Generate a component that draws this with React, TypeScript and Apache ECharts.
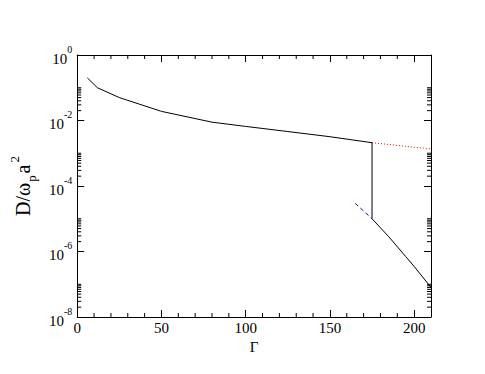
import React, { useEffect, useRef } from "react";
import * as echarts from "echarts";

// Main curve (Gamma, D/(omega_p a^2))
const mainGamma = [6, 12, 25, 50, 80, 100, 125, 150, 175, 175, 185, 195, 200, 210];
const mainD = [0.2, 0.1, 0.05, 0.019, 0.0089, 0.0066, 0.0046, 0.0032, 0.0021, 1e-5, 2.8e-6, 7e-7, 3.5e-7, 8e-8];
// Red dotted extension (fluid branch)
const redGamma = [175, 210];
const redD = [0.0021, 0.00135];
// Blue dashed extension (solid branch)
const blueGamma = [165, 175];
const blueD = [2.95e-5, 1e-5];

// Axis ticks
const xMinorTicks = [10, 20, 30, 40, 60, 70, 80, 90, 110, 120, 130, 140, 160, 170, 180, 190];
const yMinorMantissas = [2, 3, 4, 5, 6, 7, 8, 9, 10];
const yMinorDecades = [-2, -4, -6, -8];

const X_MIN = 0;
const X_MAX = 210;
const Y_MIN = 1e-8;
const Y_MAX = 1;

const FONT = "Liberation Serif";

export default function App() {
  const ref = useRef<HTMLDivElement>(null);
  useEffect(() => {
    if (!ref.current) return;
    const chart = echarts.init(ref.current, undefined, { renderer: "svg" });

    const zip = (a: number[], b: number[]) => a.map((v, i) => [v, b[i]]);
    const yMinor: number[][] = [];
    yMinorDecades.forEach((d) =>
      yMinorMantissas.forEach((m) => yMinor.push([X_MIN, m * Math.pow(10, d)]))
    );
    const xMinor = xMinorTicks.map((x) => [x, Y_MIN]);

    const lineStyleBase = { color: "#000", width: 1 };

    chart.setOption({
      animation: false,
      backgroundColor: "#fff",
      textStyle: { fontFamily: FONT },
      grid: { left: 64, right: 54, top: 55, bottom: 57 },
      xAxis: [
        {
          type: "value",
          min: X_MIN,
          max: X_MAX,
          interval: 50,
          position: "bottom",
          name: "Γ",
          nameLocation: "middle",
          nameGap: 17,
          nameTextStyle: { fontFamily: FONT, fontSize: 15, color: "#000" },
          axisLine: { show: true, onZero: false, lineStyle: lineStyleBase },
          axisTick: { show: true, inside: true, length: 7, lineStyle: lineStyleBase },
          axisLabel: {
            show: true,
            fontFamily: FONT,
            fontSize: 15,
            color: "#000",
            margin: 3,
            showMaxLabel: false,
          },
          splitLine: { show: false },
        },
        {
          type: "value",
          min: X_MIN,
          max: X_MAX,
          interval: 50,
          position: "top",
          axisLine: { show: true, onZero: false, lineStyle: lineStyleBase },
          axisTick: { show: true, inside: true, length: 7, lineStyle: lineStyleBase },
          axisLabel: { show: false },
          splitLine: { show: false },
        },
      ],
      yAxis: [
        {
          type: "log",
          logBase: 100,
          min: Y_MIN,
          max: Y_MAX,
          position: "left",
          name: "{n|D/ω}{sub|p}{n|a}{sup|2}",
          nameLocation: "middle",
          nameRotate: 90,
          nameGap: 35,
          nameTextStyle: {
            fontFamily: FONT,
            color: "#000",
            rich: {
              n: { fontFamily: FONT, fontSize: 20, lineHeight: 30, color: "#000" },
              sub: { fontFamily: FONT, fontSize: 13, lineHeight: 14, verticalAlign: "bottom", color: "#000", padding: [0, 2, 0, 1] },
              sup: { fontFamily: FONT, fontSize: 13, lineHeight: 14, verticalAlign: "top", color: "#000", padding: [0, 0, 0, 2] },
            },
          },
          axisLine: { show: true, onZero: false, lineStyle: lineStyleBase },
          axisTick: { show: true, inside: true, length: 7, lineStyle: lineStyleBase },
          axisLabel: {
            show: true,
            margin: 5,
            formatter: (v: number) => `{b|10}{s|${Math.round(Math.log10(v))}}`,
            rich: {
              b: { fontFamily: FONT, fontSize: 15, lineHeight: 22, verticalAlign: "bottom", color: "#000" },
              s: { fontFamily: FONT, fontSize: 10, lineHeight: 10, verticalAlign: "top", color: "#000" },
            },
          },
          splitLine: { show: false },
        },
        {
          type: "log",
          logBase: 100,
          min: Y_MIN,
          max: Y_MAX,
          position: "right",
          axisLine: { show: true, onZero: false, lineStyle: lineStyleBase },
          axisTick: { show: true, inside: true, length: 7, lineStyle: lineStyleBase },
          axisLabel: { show: false },
          splitLine: { show: false },
        },
      ],
      series: [
        {
          type: "line",
          data: zip(mainGamma, mainD),
          showSymbol: false,
          symbol: "none",
          lineStyle: { color: "#000", width: 1 },
          z: 3,
        },
        {
          type: "line",
          data: zip(redGamma, redD),
          showSymbol: false,
          symbol: "none",
          lineStyle: { color: "#ff0000", width: 1, type: [1, 2] },
          z: 2,
        },
        {
          type: "line",
          data: zip(blueGamma, blueD),
          showSymbol: false,
          symbol: "none",
          lineStyle: { color: "#0000ff", width: 1, type: [4, 3] },
          z: 2,
        },
        {
          type: "custom",
          silent: true,
          clip: false,
          data: yMinor,
          z: 5,
          renderItem: (_p: any, api: any) => {
            const v = api.value(1);
            const l = api.coord([X_MIN, v]);
            const r = api.coord([X_MAX, v]);
            return {
              type: "group",
              children: [
                {
                  type: "line",
                  shape: { x1: l[0], y1: l[1], x2: l[0] + 4, y2: l[1] },
                  style: { stroke: "#000", lineWidth: 1 },
                },
                {
                  type: "line",
                  shape: { x1: r[0] - 4, y1: r[1], x2: r[0], y2: r[1] },
                  style: { stroke: "#000", lineWidth: 1 },
                },
              ],
            };
          },
        },
        {
          type: "custom",
          silent: true,
          clip: false,
          data: xMinor,
          z: 5,
          renderItem: (_p: any, api: any) => {
            const x = api.value(0);
            const b = api.coord([x, Y_MIN]);
            const t = api.coord([x, Y_MAX]);
            return {
              type: "group",
              children: [
                {
                  type: "line",
                  shape: { x1: b[0], y1: b[1], x2: b[0], y2: b[1] - 4 },
                  style: { stroke: "#000", lineWidth: 1 },
                },
                {
                  type: "line",
                  shape: { x1: t[0], y1: t[1], x2: t[0], y2: t[1] + 4 },
                  style: { stroke: "#000", lineWidth: 1 },
                },
              ],
            };
          },
        },
      ],
    });
    return () => chart.dispose();
  }, []);
  return (
    <div
      ref={ref}
      style={{ position: "fixed", left: 0, top: 0, width: 485, height: 374, background: "#fff" }}
    />
  );
}
